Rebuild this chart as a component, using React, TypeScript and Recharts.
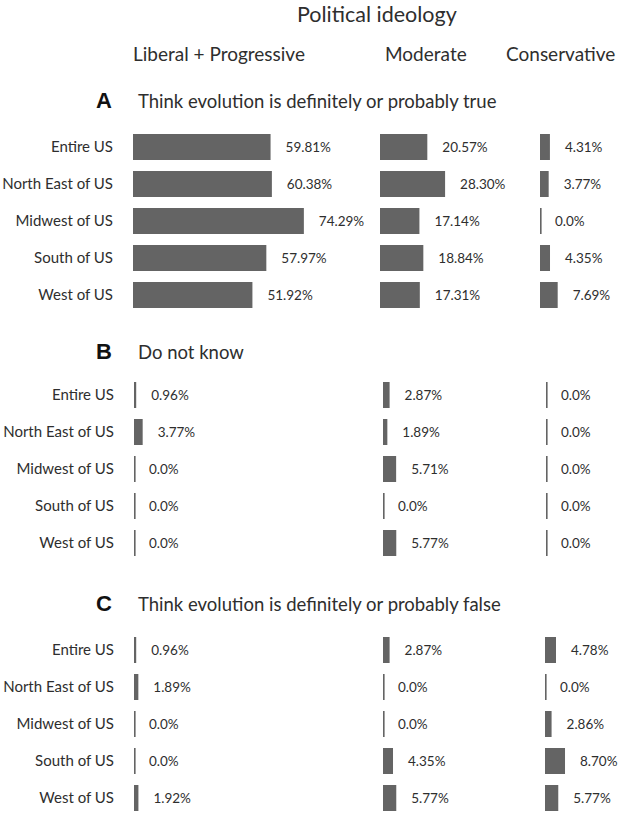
import { Bar, BarChart, LabelList, XAxis, YAxis } from "recharts";

const regions = ["Entire US", "North East of US", "Midwest of US", "South of US", "West of US"];
const ideologies = ["Liberal + Progressive", "Moderate", "Conservative"];

// A: think evolution is true
const trueLiberal = [59.81, 60.38, 74.29, 57.97, 51.92];
const trueModerate = [20.57, 28.3, 17.14, 18.84, 17.31];
const trueConservative = [4.31, 3.77, 0, 4.35, 7.69];

// B: do not know
const unsureLiberal = [0.96, 3.77, 0, 0, 0];
const unsureModerate = [2.87, 1.89, 5.71, 0, 5.77];
const unsureConservative = [0, 0, 0, 0, 0];

// C: think evolution is false
const falseLiberal = [0.96, 1.89, 0, 0, 1.92];
const falseModerate = [2.87, 0, 0, 4.35, 5.77];
const falseConservative = [4.78, 0, 2.86, 8.7, 5.77];

const FONT = "Lato, 'Open Sans', sans-serif";
const TEXT = "#2e2e2e";
const BAR = "#646464";
const PX_PER_PCT = 2.3;
const ROW_H = 37;
const Y_AXIS_W = 133;

const panels = [
  {
    letter: "A",
    title: "Think evolution is definitely or probably true",
    titleY: 101,
    top: 128,
    columns: [trueLiberal, trueModerate, trueConservative],
    zeroX: [133, 380, 540],
  },
  {
    letter: "B",
    title: "Do not know",
    titleY: 352,
    top: 376,
    columns: [unsureLiberal, unsureModerate, unsureConservative],
    zeroX: [134, 383, 546],
  },
  {
    letter: "C",
    title: "Think evolution is definitely or probably false",
    titleY: 604,
    top: 631,
    columns: [falseLiberal, falseModerate, falseConservative],
    zeroX: [134, 383, 545],
  },
];

// plot width per column (px) and the space kept for value labels
const plotWidths = [175, 80, 25];
const labelRoom = [60, 60, 55];

function formatPct(value: number) {
  return value === 0 ? "0.0%" : `${value.toFixed(2)}%`;
}

function BarShape(props: any) {
  const { x, y, width, height } = props;
  const w = Math.max(width || 0, 1.6);
  return <rect x={x} y={y} width={w} height={height} fill={BAR} />;
}

function ColumnChart({ values, zeroX, col }: { values: number[]; zeroX: number; col: number }) {
  const rows = regions.map((region, i) => ({ region, value: values[i] }));
  const showAxis = col === 0;
  const plotW = plotWidths[col];
  const left = showAxis ? zeroX - Y_AXIS_W : zeroX;
  const width = (showAxis ? Y_AXIS_W : 0) + plotW + labelRoom[col];

  return (
    <div style={{ position: "absolute", left, top: 0 }}>
      <BarChart
        width={width}
        height={ROW_H * regions.length}
        data={rows}
        layout="vertical"
        margin={{ top: 0, right: labelRoom[col], bottom: 0, left: 0 }}
        style={{ overflow: "visible" }}
      >
        <XAxis type="number" domain={[0, plotW / PX_PER_PCT]} hide />
        <YAxis
          type="category"
          dataKey="region"
          hide={!showAxis}
          width={showAxis ? Y_AXIS_W : 0}
          axisLine={false}
          tickLine={false}
          tickSize={0}
          tickMargin={20}
          tick={{ fill: TEXT, fontSize: 15, fontFamily: FONT }}
        />
        <Bar dataKey="value" barSize={26} shape={BarShape} isAnimationActive={false}>
          <LabelList
            dataKey="value"
            position="right"
            offset={15}
            formatter={(v: any) => formatPct(Number(v))}
            fill={TEXT}
            fontSize={13.5}
            fontFamily={FONT}
          />
        </Bar>
      </BarChart>
    </div>
  );
}

function Label({ x, y, size, children, bold }: { x: number; y: number; size: number; children: any; bold?: boolean }) {
  return (
    <div
      style={{
        position: "absolute",
        left: x,
        top: y,
        transform: "translateY(-50%)",
        fontFamily: bold ? "'Liberation Sans', Arial, sans-serif" : FONT,
        fontWeight: bold ? 700 : 400,
        fontSize: size,
        color: bold ? "#111" : TEXT,
        whiteSpace: "nowrap",
        lineHeight: 1,
      }}
    >
      {children}
    </div>
  );
}

export default function App() {
  const headerX = [133, 385, 506];
  return (
    <div
      style={{
        position: "absolute",
        left: 0,
        top: 0,
        width: 621,
        height: 813,
        overflow: "hidden",
        background: "#fff",
      }}
    >
      <Label x={297} y={15} size={21.5}>
        Political ideology
      </Label>
      {ideologies.map((name, i) => (
        <Label key={name} x={headerX[i]} y={53} size={19}>
          {name}
        </Label>
      ))}
      {panels.map((panel) => (
        <div key={panel.letter}>
          <Label x={96} y={panel.titleY} size={22} bold>
            {panel.letter}
          </Label>
          <Label x={138} y={panel.titleY} size={18.5}>
            {panel.title}
          </Label>
          <div style={{ position: "absolute", left: 0, top: panel.top, width: 621, height: ROW_H * 5 }}>
            {panel.columns.map((values, col) => (
              <ColumnChart key={col} values={values} zeroX={panel.zeroX[col]} col={col} />
            ))}
          </div>
        </div>
      ))}
    </div>
  );
}
